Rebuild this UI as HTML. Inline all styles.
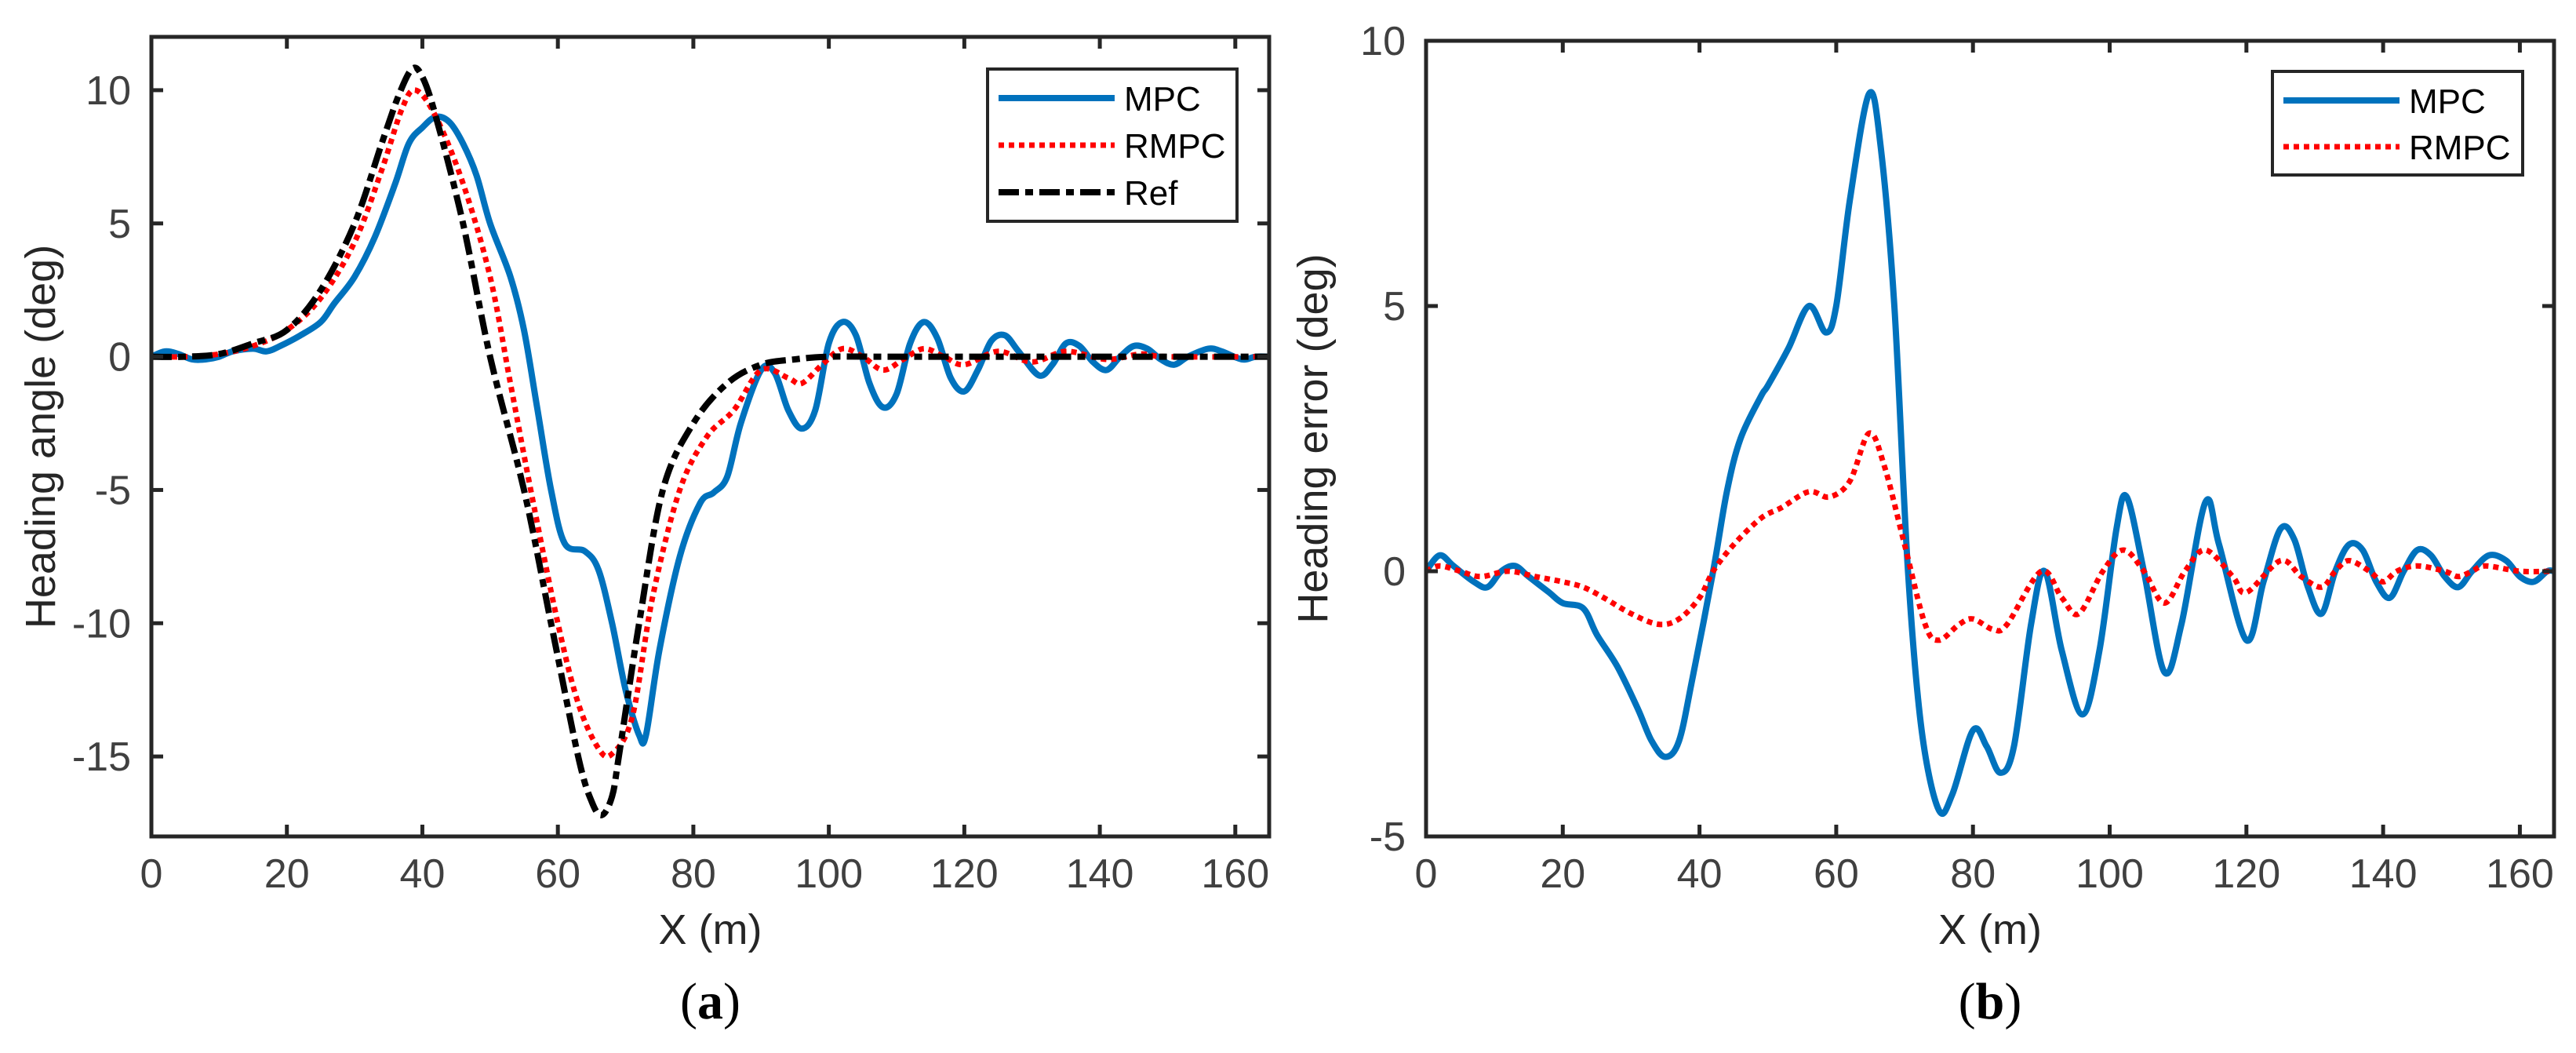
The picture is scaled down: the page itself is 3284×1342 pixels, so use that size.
<!DOCTYPE html>
<html><head><meta charset="utf-8"><style>
html,body{margin:0;padding:0;background:#fff;}
svg{display:block;font-family:"Liberation Sans",sans-serif;}
</style></head><body>
<svg id="fig" width="3284" height="1342" viewBox="0 0 3284 1342" xmlns="http://www.w3.org/2000/svg"></svg>
<script>
// ---- Chart (a) data ----
const refX = [0,5,10,15,20,25,30,34,36.5,38.5,40,42,46,50,55,59,63,65,66.5,68,69,72,75.5,80,85,90,95,100,110,165];
const refY = [0,0,0.1,0.5,1,2.5,5,8,9.8,10.8,10.5,9,5,0,-5,-10,-15,-16.7,-17.2,-16.5,-15,-10,-5,-2.5,-1,-0.3,-0.1,0,0,0];
const rmpcAX = [0,5,10,15,20,25,30,34,37,39,42,46,50,53,56,60,63,66,68,71,74,78,82,86,90,94,96,99,102,105,108,111,114,117,120,125,130,135,141,146,150,165];
const rmpcAY = [0,0,0.1,0.4,1,2.2,4.3,7,9.3,10,9,6.5,3,-1,-5,-10,-13,-14.7,-14.9,-13.5,-9,-5,-3,-2,-0.5,-0.8,-1,-0.3,0.3,0,-0.5,-0.1,0.3,0,-0.3,0.2,-0.2,0.2,-0.1,0.1,0,0];
const mpcAX = [0,2,4,6,8,10,12,15,17,19,22,25,27,30,33,36,38,40,42,44,46,48,50,53,55,57,59,61,64,66,68,70,72,73,75,78,81,83,85,87,90,92,94,96,98,100,102,104,106,108,110,112,114,116,118,120,122,124,126,128,131,133,135,137,139,141,143,145,147,149,151,153,156,158,161,163,165];
const mpcAY = [0,0.2,0.1,-0.1,-0.1,0,0.2,0.3,0.2,0.4,0.8,1.3,2,3,4.5,6.5,8,8.6,9,8.8,8,6.8,5,3,1,-2,-5,-7,-7.3,-8,-10,-12.5,-14.2,-14.2,-11,-7.5,-5.5,-5.1,-4.5,-2.5,-0.5,-0.6,-2,-2.7,-2,0.5,1.3,0.8,-1,-1.9,-1.4,0.5,1.3,0.7,-0.8,-1.3,-0.5,0.6,0.8,0.2,-0.7,-0.3,0.5,0.4,-0.2,-0.5,0,0.4,0.3,-0.1,-0.3,0,0.3,0.2,-0.1,0,0];
const yTicksA = [-15,-10,-5,0,5,10];
// ---- Chart (b) data ----
const mpcBX = [0,2,4,7,9,11,13,15,18,20,23,25,28,31,33,35,37,39,42,44,46,49,50,53,56,58.5,60,62,64.8,66.5,68.5,70.5,72.5,75,77,80,82,84,86,88.5,90.5,93,96,98.5,101,102.5,105,108,110.5,114,116,120,122.5,125,127,129,131,133,135,137,139,141,143,145,147,149,151,153,155.5,158,160,162,164,165];
const mpcBY = [0,0.3,0.1,-0.2,-0.3,0,0.1,-0.1,-0.4,-0.6,-0.7,-1.2,-1.8,-2.6,-3.2,-3.5,-3.2,-2,0,1.5,2.5,3.3,3.5,4.2,5,4.5,5,7,9,8,5,0,-3,-4.5,-4.2,-3,-3.3,-3.8,-3.3,-1,0,-1.5,-2.7,-1.5,0.8,1.4,0,-1.9,-1,1.3,0.5,-1.3,-0.2,0.8,0.6,-0.3,-0.8,0,0.5,0.4,-0.2,-0.5,0,0.4,0.3,-0.1,-0.3,0,0.3,0.2,-0.1,-0.2,0,0];
const rmpcBX = [0,2,5,8,12,16,20,23,26,30,34,37,40,42,45,49,52,56,59,62,64.8,67,70,73,75,78,80,83,85,90,93,95.5,99,102,105,108,111,114,118,120,125,128,131,133,135,138,140,142,145,149,151,153,155,160,165];
const rmpcBY = [0,0.1,0,-0.1,0,-0.1,-0.2,-0.3,-0.5,-0.8,-1,-0.9,-0.5,0,0.5,1,1.2,1.5,1.4,1.7,2.6,2,0.5,-1,-1.3,-1,-0.9,-1.1,-1,0,-0.5,-0.8,0,0.4,0,-0.6,0,0.4,-0.1,-0.4,0.2,-0.1,-0.3,0,0.2,0,-0.2,0,0.1,0,-0.1,0,0.1,0,0];
const yTicksB = [-5,0,5,10];
const xTicks = [0,20,40,60,80,100,120,140,160];

const NS = "http://www.w3.org/2000/svg";
const svg = document.getElementById('fig');
function mk(tag, attrs, parent){const e=document.createElementNS(NS,tag);for(const k in attrs)e.setAttribute(k,attrs[k]);(parent||svg).appendChild(e);return e;}
function linScale(d0,d1,r0,r1){return v=>r0+(v-d0)/(d1-d0)*(r1-r0);}
function smoothPath(pts){
  let d="M"+pts[0][0].toFixed(1)+","+pts[0][1].toFixed(1);
  for(let i=0;i<pts.length-1;i++){
    const p0=pts[Math.max(0,i-1)],p1=pts[i],p2=pts[i+1],p3=pts[Math.min(pts.length-1,i+2)];
    const c1=[p1[0]+(p2[0]-p0[0])/6,p1[1]+(p2[1]-p0[1])/6];
    const c2=[p2[0]-(p3[0]-p1[0])/6,p2[1]-(p3[1]-p1[1])/6];
    d+="C"+c1[0].toFixed(1)+","+c1[1].toFixed(1)+" "+c2[0].toFixed(1)+","+c2[1].toFixed(1)+" "+p2[0].toFixed(1)+","+p2[1].toFixed(1);
  }
  return d;
}
const styles = {
  mpc:{stroke:"#0072bd","stroke-width":8,fill:"none","stroke-linejoin":"round"},
  rmpc:{stroke:"#ff0000","stroke-width":7,fill:"none","stroke-dasharray":"7 6"},
  ref:{stroke:"#000","stroke-width":8,fill:"none","stroke-dasharray":"26 8 10 8"}
};
function chart(cfg){
  const g=mk('g',{});
  
  
  const X=linScale(0,165,cfg.L,cfg.R), Y=linScale(cfg.ymin,cfg.ymax,cfg.B,cfg.T);
  const clipId='clip'+cfg.name;
  const cp=mk('clipPath',{id:clipId},g);
  mk('rect',{x:cfg.L,y:cfg.T,width:cfg.R-cfg.L,height:cfg.B-cfg.T},cp);
  cfg.series.forEach(s=>{
    const pts=s.x.map((v,i)=>[X(v),Y(s.y[i])]);
    const p=mk('path',Object.assign({d:smoothPath(pts),'clip-path':'url(#'+clipId+')'},styles[s.style]),g);
    
    
  });
  const tg=mk('g',{stroke:"#262626","stroke-width":5},g);
  xTicks.forEach(t=>{
    const x=X(t);
    mk('line',{x1:x,y1:cfg.B,x2:x,y2:cfg.B-15},tg);
    mk('line',{x1:x,y1:cfg.T,x2:x,y2:cfg.T+15},tg);
    const tx=mk('text',{x:x,y:cfg.B+65,'text-anchor':'middle','font-size':52,fill:'#404040'},g);
    tx.textContent=t;
    
    
  });
  cfg.yTicks.forEach(t=>{
    const y=Y(t);
    mk('line',{x1:cfg.L,y1:y,x2:cfg.L+15,y2:y},tg);
    mk('line',{x1:cfg.R,y1:y,x2:cfg.R-15,y2:y},tg);
    const tx=mk('text',{x:cfg.L-26,y:y+18,'text-anchor':'end','font-size':52,fill:'#404040'},g);
    tx.textContent=t;
    
    
  });
  const fr=mk('rect',{x:cfg.L,y:cfg.T,width:cfg.R-cfg.L,height:cfg.B-cfg.T,fill:'none',stroke:'#262626','stroke-width':5},g);
  
  
  const xl=mk('text',{x:(cfg.L+cfg.R)/2,y:cfg.B+137,'text-anchor':'middle','font-size':54,fill:'#262626'},g);
  xl.textContent='X (m)';
  
  
  const yx=cfg.ylabX, yy=(cfg.T+cfg.B)/2;
  const yl=mk('text',{x:yx,y:yy,'text-anchor':'middle','font-size':54,fill:'#262626',transform:'rotate(-90 '+yx+' '+yy+')'},g);
  yl.textContent=cfg.ylabel;
  
  
  const cap=mk('text',{x:(cfg.L+cfg.R)/2,y:1298,'text-anchor':'middle','font-size':66,fill:'#000','font-family':'"Liberation Serif",serif'},g);
  cap.innerHTML='(<tspan font-weight="bold">'+cfg.cap+'</tspan>)';
  
  
  const lg=mk('g',{},g);
  
  
  const L=cfg.leg;
  mk('rect',{x:L.x,y:L.y,width:L.w,height:L.h,fill:'#fff',stroke:'#262626','stroke-width':4},lg);
  cfg.series.forEach((s,i)=>{
    const y=L.rows[i];
    const ln=mk('line',Object.assign({x1:L.x+14,y1:y,x2:L.x+162,y2:y},styles[s.style]),lg);
    
    
    const t=mk('text',{x:L.x+174,y:y+16,'font-size':44,fill:'#000'},lg);
    t.textContent=s.label;
    
    
  });
}
chart({name:'chart-a',L:193,R:1618,T:47,B:1066,ymin:-18,ymax:12,yTicks:yTicksA,ylabel:'Heading angle (deg)',ylabX:70,cap:'a',
  series:[{name:'mpc-line',label:'MPC',style:'mpc',x:mpcAX,y:mpcAY},{name:'rmpc-line',label:'RMPC',style:'rmpc',x:rmpcAX,y:rmpcAY},{name:'ref-line',label:'Ref',style:'ref',x:refX,y:refY}],
  leg:{x:1259,y:88,w:318,h:194,rows:[125,185,245]}});
chart({name:'chart-b',L:1818,R:3256,T:52,B:1066,ymin:-5,ymax:10,yTicks:yTicksB,ylabel:'Heading error (deg)',ylabX:1692,cap:'b',
  series:[{name:'mpc-line',label:'MPC',style:'mpc',x:mpcBX,y:mpcBY},{name:'rmpc-line',label:'RMPC',style:'rmpc',x:rmpcBX,y:rmpcBY}],
  leg:{x:2897,y:91,w:319,h:132,rows:[128,187]}});
</script>
</body></html>
